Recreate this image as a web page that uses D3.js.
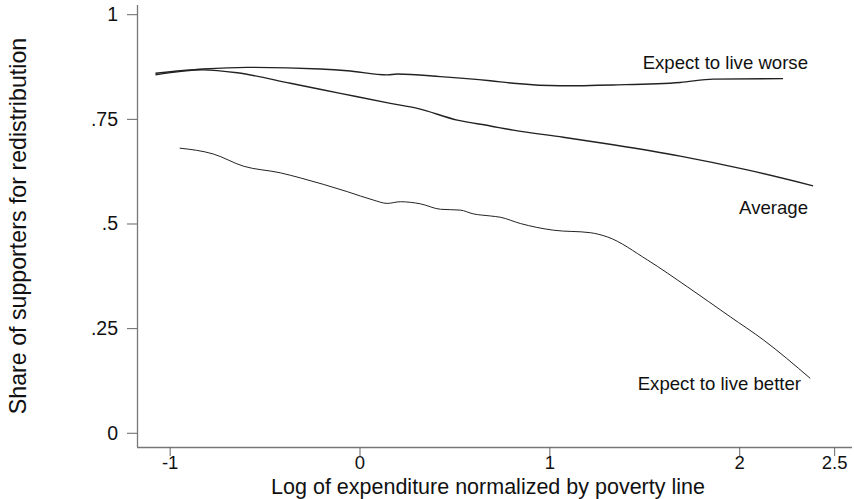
<!DOCTYPE html>
<html>
<head>
<meta charset="utf-8">
<script src="https://cdn.jsdelivr.net/npm/d3@7"></script>
<style>
  html, body { margin: 0; padding: 0; background: #fff; }
  svg text { font-family: "Liberation Sans", Arial, Helvetica, sans-serif; fill: #111; }
</style>
</head>
<body>
<svg id="chart" width="854" height="499"></svg>
<script>
// ---- Data ----
const worseX = [-1.075, -0.823, -0.591, -0.206, -0.064, 0.146, 0.199, 0.426, 0.689, 0.810, 1.057, 1.336, 1.689, 1.863, 2.231];
const worseY = [0.859, 0.869, 0.873, 0.869, 0.865, 0.855, 0.857, 0.851, 0.841, 0.835, 0.829, 0.831, 0.837, 0.845, 0.846];

const averageX = [-1.075, -0.823, -0.644, -0.364, -0.101, 0.163, 0.305, 0.515, 0.689, 0.810, 1.073, 1.336, 1.689, 2.042, 2.389];
const averageY = [0.855, 0.867, 0.860, 0.835, 0.811, 0.787, 0.775, 0.747, 0.733, 0.723, 0.706, 0.688, 0.661, 0.628, 0.590];

const betterX = [-0.947, -0.770, -0.612, -0.417, -0.312, -0.064, 0.073, 0.146, 0.215, 0.320, 0.426, 0.531, 0.599, 0.689, 0.741, 0.847, 1.021, 1.216, 1.305, 1.516, 1.726, 1.953, 2.127, 2.374];
const betterY = [0.680, 0.666, 0.637, 0.621, 0.609, 0.576, 0.556, 0.548, 0.552, 0.547, 0.534, 0.532, 0.523, 0.518, 0.515, 0.500, 0.484, 0.478, 0.468, 0.413, 0.349, 0.277, 0.222, 0.130];

const xTicks = [-1, 0, 1, 2, 2.5];
const xTickLabels = ["-1", "0", "1", "2", "2.5"];
const yTicks = [0, 0.25, 0.5, 0.75, 1];
const yTickLabels = ["0", ".25", ".5", ".75", "1"];

const seriesLabels = ["Expect to live worse", "Average", "Expect to live better"];
const xTitle = "Log of expenditure normalized by poverty line";
const yTitle = "Share of supporters for redistribution";

// ---- Layout ----
const svg = d3.select("#chart");
const mLeft = 137, mRight = 852, mTop = 5, mBottom = 447;

const x = d3.scaleLinear().domain([-1.172, 2.594]).range([mLeft, mRight]);
const y = d3.scaleLinear().domain([-0.034, 1.022]).range([mBottom, mTop]);

// axes
const xAxis = d3.axisBottom(x).tickValues(xTicks).tickSize(9).tickPadding(0)
  .tickFormat((d, i) => xTickLabels[i]);
const yAxis = d3.axisLeft(y).tickValues(yTicks).tickSize(10).tickPadding(9)
  .tickFormat((d, i) => yTickLabels[i]);

const gx = svg.append("g").attr("transform", `translate(0,${mBottom})`).call(xAxis);
const gy = svg.append("g").attr("transform", `translate(${mLeft},0)`).call(yAxis);

[gx, gy].forEach(g => {
  g.select(".domain").attr("stroke", "#777").attr("stroke-width", 1.3);
  g.selectAll(".tick line").attr("stroke", "#666").attr("stroke-width", 1);
  g.selectAll(".tick text").attr("fill", "#111")
    .style("font-family", "'Liberation Sans', Arial, sans-serif");
});
gx.selectAll(".tick text").attr("font-size", 18.5);
gy.selectAll(".tick text").attr("font-size", 19.5);
gx.select(".domain").attr("d", `M${mLeft},0.5H${mRight}`);
gy.select(".domain").attr("d", `M0.5,${mTop}V${mBottom}`);

// lines
const line = d3.line().x(d => x(d[0])).y(d => y(d[1])).curve(d3.curveMonotoneX);
const series = [
  {xs: worseX, ys: worseY, w: 1.4},
  {xs: averageX, ys: averageY, w: 1.4},
  {xs: betterX, ys: betterY, w: 1.0}
];
series.forEach(s => {
  const pts = s.xs.map((v, i) => [v, s.ys[i]]);
  svg.append("path").datum(pts).attr("d", line)
    .attr("fill", "none").attr("stroke", "#222").attr("stroke-width", s.w);
});

// series labels (text right-aligned)
const labelPos = [
  {px: 808, py: 62},
  {px: 808, py: 207},
  {px: 801, py: 383}
];
seriesLabels.forEach((t, i) => {
  svg.append("text").attr("x", labelPos[i].px).attr("y", labelPos[i].py)
    .attr("text-anchor", "end").attr("dominant-baseline", "central")
    .attr("font-size", 18.6).text(t);
});

// axis titles
svg.append("text").attr("x", (258 + 718) / 2).attr("y", 486.5)
  .attr("text-anchor", "middle").attr("dominant-baseline", "central")
  .attr("font-size", 21.5).text(xTitle);
svg.append("text").attr("transform", "translate(18,226) rotate(-90)")
  .attr("text-anchor", "middle").attr("dominant-baseline", "central")
  .attr("font-size", 23.2).text(yTitle);
</script>
</body>
</html>
